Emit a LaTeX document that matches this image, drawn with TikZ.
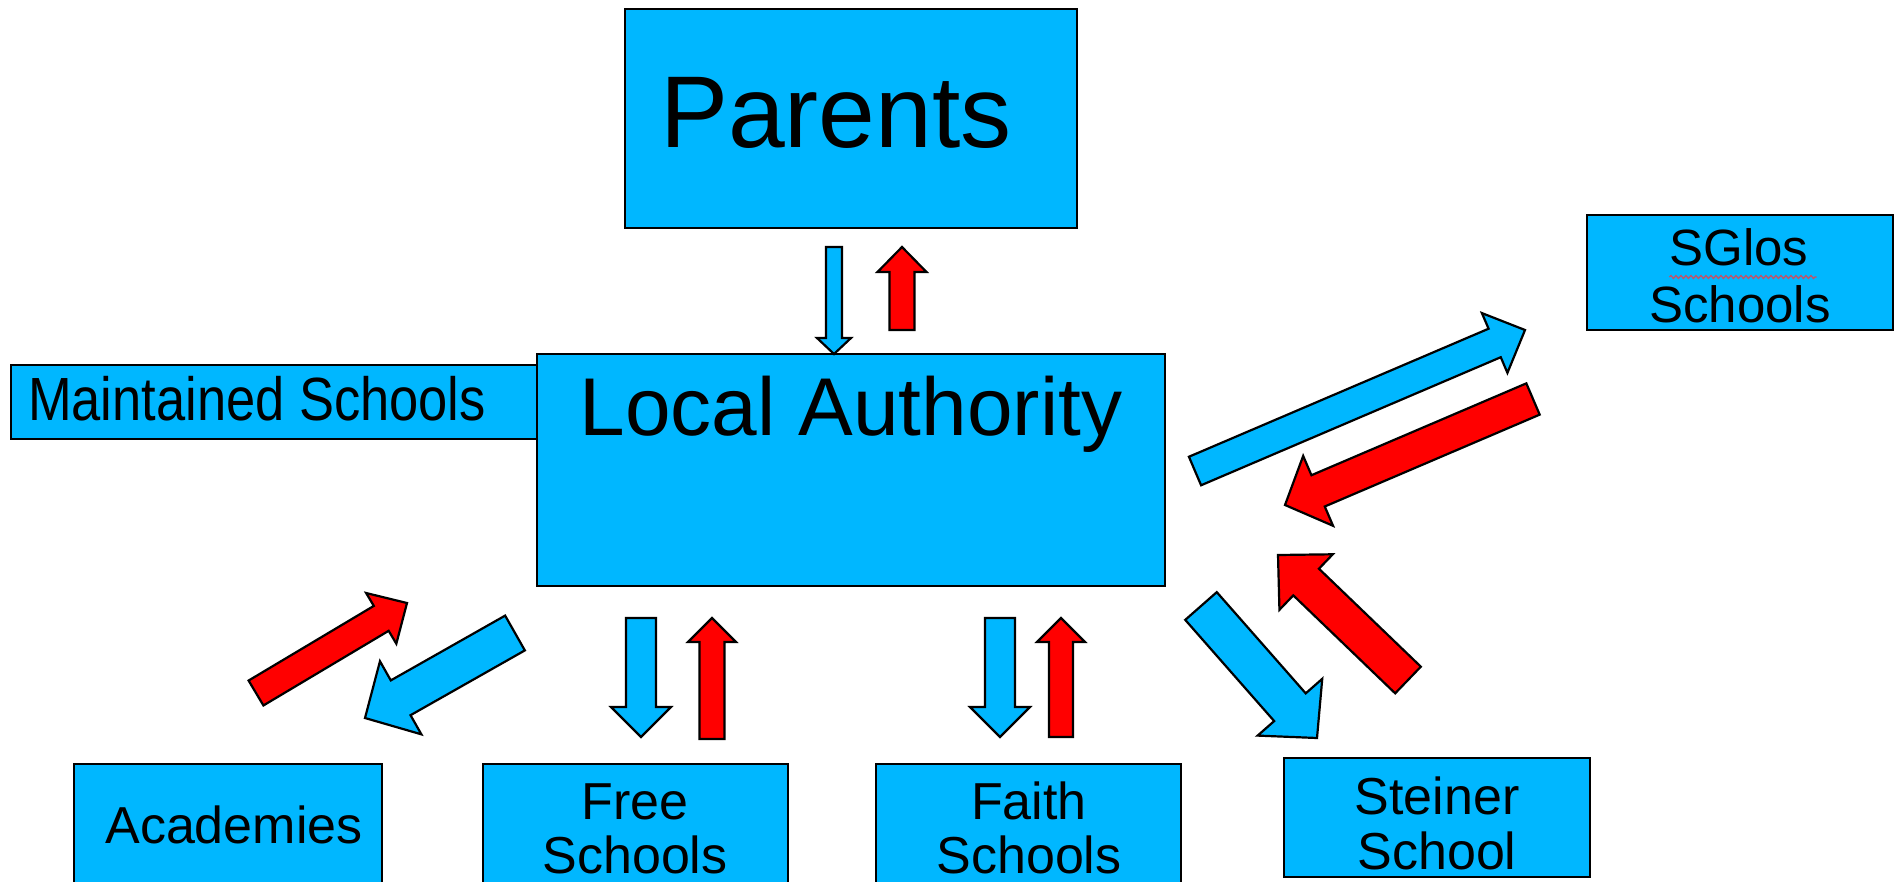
\documentclass[tikz,border=0pt]{standalone}
\usepackage{fontspec}
\setmainfont{Liberation Sans}
\usetikzlibrary{calc,decorations.pathmorphing}
\definecolor{boxblue}{RGB}{0,183,255}
\definecolor{arrred}{RGB}{255,0,0}
\definecolor{squig}{RGB}{200,80,100}
% block arrow: style, tail, tip, half shaft width, half head width, head length
\newcommand\blockarrow[6]{%
  \coordinate (ba-n) at ($(#3)!#6!(#2)$);
  \draw[#1] ($(#2)!#4!90:(#3)$) -- ($(ba-n)!#4!-90:(#2)$) -- ($(ba-n)!#5!-90:(#2)$) -- (#3)
    -- ($(ba-n)!#5!90:(#2)$) -- ($(ba-n)!#4!90:(#2)$) -- ($(#2)!#4!-90:(#3)$) -- cycle;
}
\begin{document}
\begin{tikzpicture}[x=1pt,y=-1pt,
  box/.style={draw=black, line width=2.3pt, fill=boxblue, inner sep=0pt, outer sep=0pt, anchor=north west, rectangle},
  txt/.style={inner sep=0pt, anchor=base, text=black},
  bluearr/.style={draw=black, line width=2.2pt, fill=boxblue, line join=miter},
  redarr/.style={draw=black, line width=2.2pt, fill=arrred, line join=miter}]
\useasboundingbox (0,0) rectangle (1903,881);
\clip (0,0) rectangle (1903,881);
\fill[white] (0,0) rectangle (1903,881);

% boxes
\node[box, minimum width=452pt, minimum height=219pt] (par) at (625,9) {};
\node[box, minimum width=527pt, minimum height=74pt] (mnt) at (11,365) {};
\node[box, minimum width=628pt, minimum height=232pt] (la) at (537,354) {};
\node[box, minimum width=306pt, minimum height=115pt] (sg) at (1587,215) {};
\node[box, minimum width=308pt, minimum height=160pt] (ac) at (74,764) {};
\node[box, minimum width=305pt, minimum height=160pt] (fr) at (483,764) {};
\node[box, minimum width=305pt, minimum height=160pt] (fa) at (876,764) {};
\node[box, minimum width=306pt, minimum height=119pt] (st) at (1284,758) {};

% texts
\node[txt, font=\fontsize{102}{110}\selectfont] (parT) at (836,147) {Parents};
\node[txt, font=\fontsize{82}{90}\selectfont] (laT) at (851,435) {Local Authority};
\node[txt, font=\fontsize{61}{66}\selectfont] (mntT) at (257,420) {\scalebox{0.86}[1]{Maintained Schools}};
\node[txt, font=\fontsize{51}{55}\selectfont] (sgT1) at (1739,265) {SGlos};
\node[txt, font=\fontsize{51}{55}\selectfont] (sgT2) at (1740,322) {Schools};
\draw[squig, line width=1.2pt, decorate, decoration={snake, amplitude=1.5pt, segment length=5pt}]
  ($(sgT1.base west)+(0,12)$) -- ($(sgT1.base east)+(8,12)$);
\node[txt, font=\fontsize{52}{56}\selectfont] (acT) at (234,843) {Academies};
\node[txt, font=\fontsize{52}{56}\selectfont] (frT1) at (635,819) {Free};
\node[txt, font=\fontsize{52}{56}\selectfont] (frT2) at (635,873) {Schools};
\node[txt, font=\fontsize{52}{56}\selectfont] (faT1) at (1029,819) {Faith};
\node[txt, font=\fontsize{52}{56}\selectfont] (faT2) at (1029,873) {Schools};
\node[txt, font=\fontsize{52}{56}\selectfont] (stT1) at (1437,814) {Steiner};
\node[txt, font=\fontsize{52}{56}\selectfont] (stT2) at (1437,869) {School};

% arrow end points
\coordinate (a1s) at (834,247);  \coordinate (a1e) at (834,354);
\coordinate (a2s) at (902,330);  \coordinate (a2e) at (902,247);
\coordinate (a3s) at (1195,471); \coordinate (a3e) at (1525,330);
\coordinate (a4s) at (1533,399); \coordinate (a4e) at (1285,505);
\coordinate (a5s) at (1201,606); \coordinate (a5e) at (1317,738);
\coordinate (a6s) at (1408,680); \coordinate (a6e) at (1278,555);
\coordinate (a7s) at (256,693);  \coordinate (a7e) at (407,603);
\coordinate (a8s) at (515,633);  \coordinate (a8e) at (365,718);
\coordinate (a9s) at (641,618);  \coordinate (a9e) at (641,737);
\coordinate (a10s) at (712,739); \coordinate (a10e) at (712,618);
\coordinate (a11s) at (1000,618); \coordinate (a11e) at (1000,737);
\coordinate (a12s) at (1061,737); \coordinate (a12e) at (1061,618);

% block arrows
\blockarrow{bluearr}{a1s}{a1e}{8pt}{17pt}{16pt}
\blockarrow{redarr}{a2s}{a2e}{12.5pt}{24.5pt}{25pt}
\blockarrow{bluearr}{a3s}{a3e}{15.5pt}{32.5pt}{33pt}
\blockarrow{redarr}{a4s}{a4e}{17pt}{38pt}{36pt}
\blockarrow{bluearr}{a5s}{a5e}{21pt}{43pt}{41pt}
\blockarrow{redarr}{a6s}{a6e}{18.5pt}{38.5pt}{39pt}
\blockarrow{redarr}{a7s}{a7e}{14.5pt}{29.5pt}{30pt}
\blockarrow{bluearr}{a8s}{a8e}{20pt}{42pt}{41pt}
\blockarrow{bluearr}{a9s}{a9e}{15pt}{30pt}{30pt}
\blockarrow{redarr}{a10s}{a10e}{12.5pt}{24pt}{24pt}
\blockarrow{bluearr}{a11s}{a11e}{15pt}{30pt}{30pt}
\blockarrow{redarr}{a12s}{a12e}{12pt}{24pt}{24pt}
\end{tikzpicture}
\end{document}
